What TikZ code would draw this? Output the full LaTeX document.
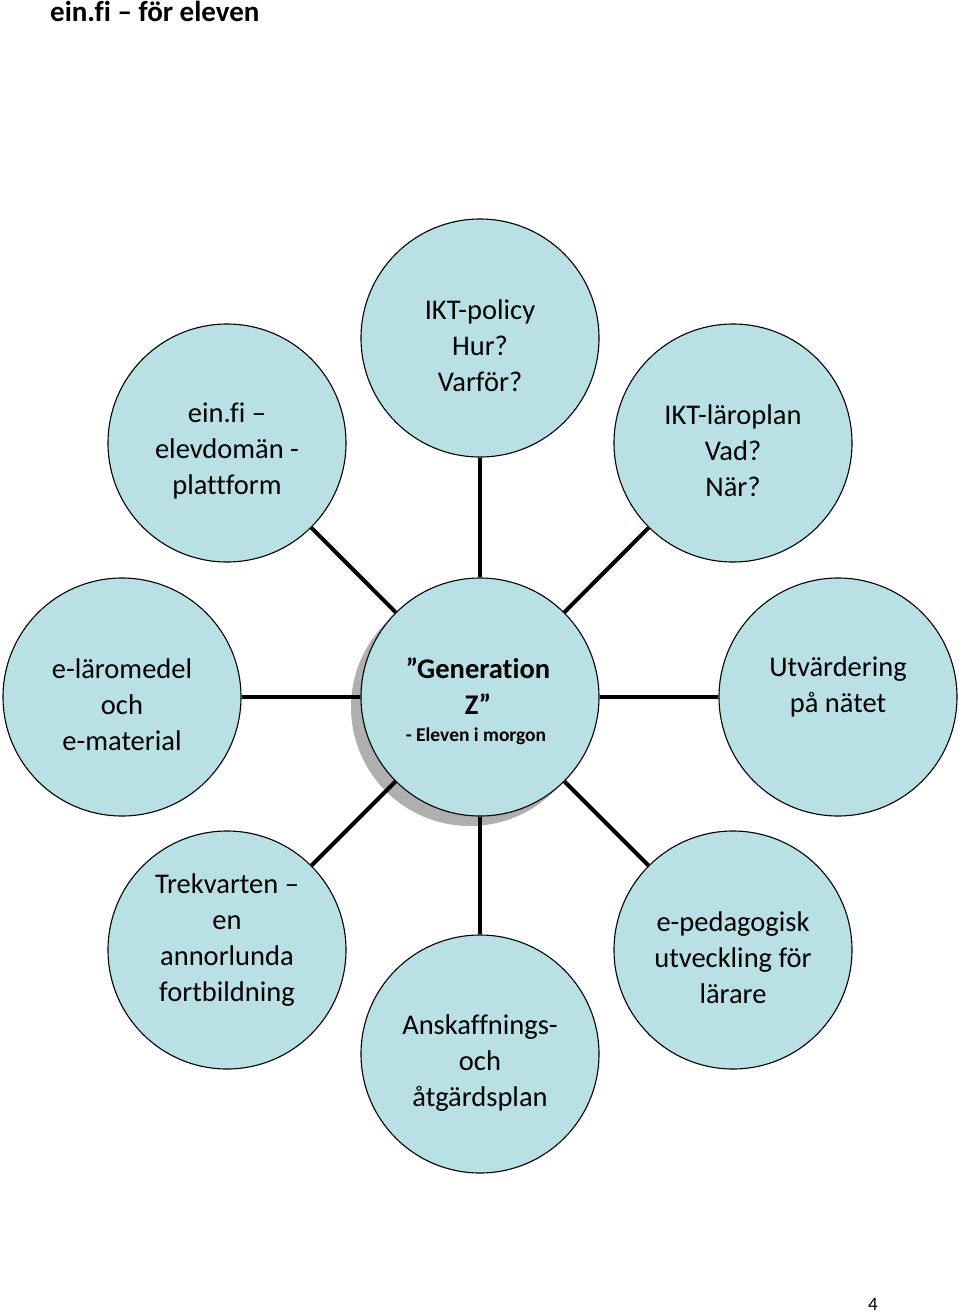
\documentclass[tikz,border=0pt]{standalone}
\usepackage{fontspec}
\setmainfont[Ligatures=NoCommon]{Carlito}
\definecolor{bubblefill}{RGB}{185,224,228}
\definecolor{shadowgray}{RGB}{175,175,175}
\begin{document}
\begin{tikzpicture}[x=1pt,y=-1pt,
  bubble/.style={circle,draw=black,line width=1.1pt,fill=bubblefill,minimum size=238pt,inner sep=0pt},
  txt/.style={align=center,font=\fontsize{28.5}{36}\selectfont,text=black,inner sep=0pt},
  conn/.style={line width=4pt,draw=black}]
\useasboundingbox (0,0) rectangle (960,1315);
% title and page number
\node[anchor=base west,font=\bfseries\fontsize{29}{33}\selectfont,inner sep=0pt] (title) at (50,21) {ein.fi – för eleven};
\node[anchor=base,font=\fontsize{19}{22}\selectfont,inner sep=0pt] (pagenum) at (873,1310) {4};
% shadow of centre circle
\fill[shadowgray] (470,707) circle (119);
% circles
\node[bubble] (c)  at (480,697)  {};
\node[bubble] (t)  at (480,338)  {};
\node[bubble] (tl) at (227,443)  {};
\node[bubble] (tr) at (733,443)  {};
\node[bubble] (l)  at (122,697)  {};
\node[bubble] (r)  at (838,697)  {};
\node[bubble] (bl) at (227,950)  {};
\node[bubble] (b)  at (480,1054) {};
\node[bubble] (br) at (733,950)  {};
% connectors
\draw[conn] (c) -- (t);
\draw[conn] (c) -- (tl);
\draw[conn] (c) -- (tr);
\draw[conn] (c) -- (l);
\draw[conn] (c) -- (r);
\draw[conn] (c) -- (bl);
\draw[conn] (c) -- (b);
\draw[conn] (c) -- (br);
% texts
\node[txt] (tt)  at (480,346)  {IKT-policy\\Hur?\\Varför?};
\node[txt] (tlt) at (227,451)  {ein.fi –\\elevdomän -\\plattform};
\node[txt] (trt) at (733,451)  {IKT-läroplan\\Vad?\\När?};
\node[txt] (lt)  at (122,705)  {e-läromedel\\och\\e-material};
\node[txt] (rt)  at (838,687)  {Utvärdering\\på nätet};
\node[txt] (blt) at (227,940)  {Trekvarten –\\en\\annorlunda\\fortbildning};
\node[txt] (bt)  at (480,1063) {Anskaffnings-\\och\\åtgärdsplan};
\node[txt] (brt) at (733,958)  {e-pedagogisk\\utveckling för\\lärare};
\node[txt,font=\bfseries\fontsize{28.5}{36}\selectfont] (ct) at (478,686) {”Generation\\Z”};
\node[anchor=base,font=\bfseries\fontsize{19.5}{24}\selectfont,inner sep=0pt] (cs) at (476,741) {- Eleven i morgon};
\end{tikzpicture}
\end{document}
